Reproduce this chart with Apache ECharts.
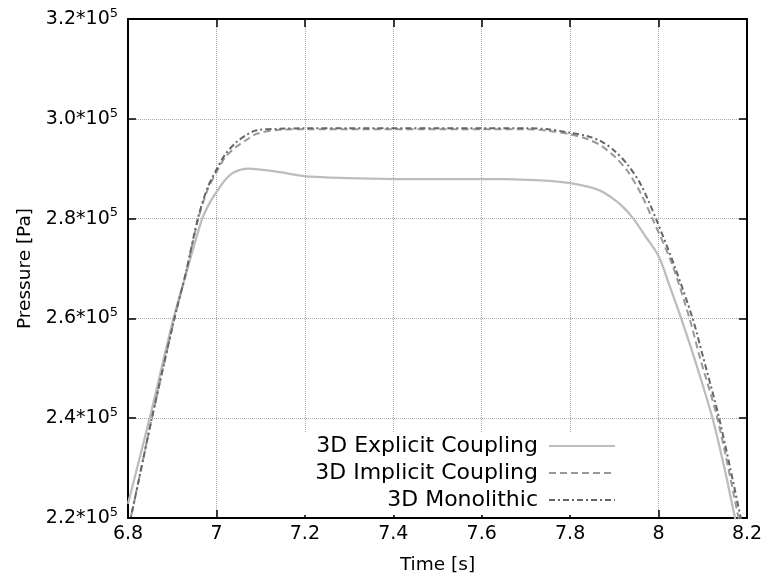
<!DOCTYPE html>
<html>
<head>
<meta charset="utf-8">
<script src="https://cdn.jsdelivr.net/npm/echarts@6/dist/echarts.min.js"></script>
<style>html,body{margin:0;padding:0;background:#fff}#c{width:780px;height:580px}</style>
</head>
<body>
<div id="c"></div>
<script>
// ---- data (time in s, pressure in Pa) ----
const seriesNames = ['3D Explicit Coupling', '3D Implicit Coupling', '3D Monolithic'];

const explicitT = [6.800, 6.849, 6.903, 6.930, 6.950, 6.968, 6.985, 7.000, 7.020, 7.040, 7.072, 7.100, 7.143, 7.200, 7.260, 7.350, 7.450, 7.550, 7.650, 7.720, 7.760, 7.800, 7.840, 7.870, 7.900, 7.920, 7.943, 7.970, 8.000, 8.025, 8.051, 8.081, 8.122, 8.149, 8.173, 8.185];
const explicitP = [222850, 240000, 260000, 268500, 274800, 280000, 283200, 285300, 287800, 289300, 290000, 289800, 289300, 288500, 288200, 288000, 287900, 287900, 287900, 287700, 287500, 287100, 286400, 285500, 283800, 282300, 280000, 276500, 272500, 266500, 260000, 252000, 240000, 230000, 220000, 215500];

const implicitT = [6.800, 6.806, 6.854, 6.905, 6.930, 6.959, 6.980, 7.000, 7.020, 7.045, 7.070, 7.091, 7.143, 7.200, 7.300, 7.400, 7.500, 7.600, 7.700, 7.750, 7.800, 7.840, 7.870, 7.900, 7.930, 7.960, 7.986, 8.030, 8.070, 8.094, 8.133, 8.181, 8.190];
const implicitP = [218500, 220000, 240000, 260000, 268800, 280000, 285800, 289300, 292300, 294400, 295900, 297000, 297800, 297900, 297900, 297900, 297900, 297900, 297900, 297600, 296900, 295900, 294600, 292500, 289500, 285000, 280000, 271000, 260000, 252000, 240000, 220000, 216000];

const monolithicT = [6.800, 6.806, 6.854, 6.905, 6.930, 6.958, 6.980, 7.000, 7.020, 7.045, 7.070, 7.091, 7.143, 7.200, 7.300, 7.400, 7.500, 7.600, 7.700, 7.750, 7.800, 7.840, 7.870, 7.900, 7.930, 7.960, 7.994, 8.036, 8.077, 8.100, 8.137, 8.186, 8.195];
const monolithicP = [218500, 220000, 240000, 260000, 268800, 280000, 286200, 289800, 292900, 295300, 296900, 297700, 298000, 298100, 298100, 298100, 298100, 298100, 298100, 297900, 297200, 296500, 295500, 293600, 290800, 286800, 280000, 270500, 260000, 252500, 240000, 220000, 216000];

const xTicks = [6.8, 7, 7.2, 7.4, 7.6, 7.8, 8, 8.2];
const yTickMantissas = ['2.2', '2.4', '2.6', '2.8', '3.0', '3.2'];

// ---- build ----
const zip = (a, b) => a.map((v, i) => [v, b[i]]);
const FONT = 'DejaVu Sans';
const chart = echarts.init(document.getElementById('c'), null, {renderer: 'canvas'});

const gridLine = {show: true, lineStyle: {color: '#a8a8a8', width: 1, type: [1, 1]}};
const frameLine = {show: true, onZero: false, lineStyle: {color: '#000', width: 2}};
const tickIn = {show: true, inside: true, length: 8, lineStyle: {color: '#000', width: 1.5}};

function lineSeries(name, t, p, color, type, w) {
  return {
    name: name, type: 'line', data: zip(t, p), smooth: 0.3,
    showSymbol: false, symbol: 'none', clip: true,
    lineStyle: {color: color, width: w, type: type}, itemStyle: {color: color}
  };
}

chart.setOption({
  animation: false,
  backgroundColor: '#fff',
  grid: {left: 128, top: 19, right: 33, bottom: 59, containLabel: false},
  xAxis: [{
    type: 'value', min: 6.8, max: 8.2, interval: 0.2,
    name: 'Time [s]', nameLocation: 'middle', nameGap: 38,
    nameTextStyle: {fontFamily: FONT, fontSize: 18.5, color: '#000'},
    axisLine: frameLine, axisTick: tickIn, splitLine: gridLine,
    axisLabel: {
      margin: 7, fontFamily: FONT, fontSize: 19, color: '#000',
      formatter: v => { const t = xTicks.find(x => Math.abs(x - v) < 1e-6); return t === undefined ? '' : String(t); }
    }
  }, {
    type: 'value', position: 'top', min: 6.8, max: 8.2, interval: 0.2,
    axisLine: frameLine, axisTick: tickIn, axisLabel: {show: false}, splitLine: {show: false}
  }],
  yAxis: [{
    type: 'value', min: 220000, max: 320000, interval: 20000,
    name: 'Pressure [Pa]', nameLocation: 'middle', nameGap: 92,
    nameTextStyle: {fontFamily: FONT, fontSize: 18.5, color: '#000'},
    axisLine: frameLine, axisTick: tickIn, splitLine: gridLine,
    axisLabel: {
      margin: 10, color: '#000',
      formatter: v => { const i = Math.round((v - 220000) / 20000); return '{a|' + yTickMantissas[i] + '*10}{s|5}'; },
      rich: {
        a: {fontFamily: FONT, fontSize: 19, color: '#000'},
        s: {fontFamily: FONT, fontSize: 13, color: '#000', padding: [0, 0, 11, 0]}
      }
    }
  }, {
    type: 'value', position: 'right', min: 220000, max: 320000, interval: 20000,
    axisLine: frameLine, axisTick: tickIn, axisLabel: {show: false}, splitLine: {show: false}
  }],
  legend: {
    orient: 'vertical', align: 'right', right: 158, top: 433,
    padding: [2, 6, 4, 12], itemGap: 5, itemWidth: 66, itemHeight: 14,
    backgroundColor: '#fff',
    itemStyle: {opacity: 0},
    textStyle: {fontFamily: FONT, fontSize: 22, color: '#000', lineHeight: 22, padding: [0, 6, 0, 0]},
    data: seriesNames
  },
  series: [
    lineSeries(seriesNames[0], explicitT, explicitP, '#bdbdbd', 'solid', 2.3),
    lineSeries(seriesNames[1], implicitT, implicitP, '#999999', [7, 4], 2),
    lineSeries(seriesNames[2], monolithicT, monolithicP, '#666666', [6, 3, 2, 3], 2)
  ]
});
</script>
</body>
</html>
